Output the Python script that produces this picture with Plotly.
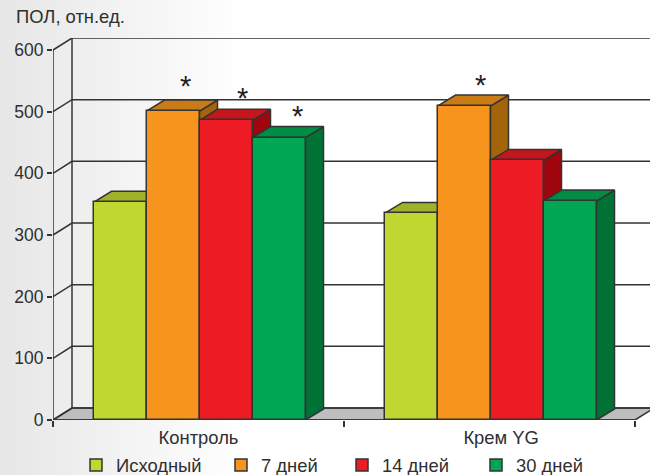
import plotly.graph_objects as go

# --- data ---
groups = ["Контроль", "Крем YG"]
series_names = ["Исходный", "7 дней", "14 дней", "30 дней"]
baseline = [353, 335]
day7 = [501, 509]
day14 = [486, 421]
day30 = [458, 355]
series_values = [baseline, day7, day14, day30]
y_ticks = [0, 100, 200, 300, 400, 500, 600]
star_series = [1, 2, 3, 1]      # which series carries a "*"
star_groups = [0, 0, 0, 1]      # in which group

# --- styles ---
front_cols = ["#bfd730", "#f7941d", "#ed1c24", "#00a651"]
top_cols = ["#9fb229", "#c97b16", "#c4161c", "#008c44"]
side_cols = ["#8a9a22", "#a4640a", "#a0060e", "#007236"]
legend_px = [76, 221, 342, 476]
star_xshift = [1, 5, 7, 5]
star_yshift = [14, 11, 11, 10]
INK = "#333333"
LW = 1.5
TEXT = "#2f2f2f"
FONT = "Liberation Sans"

W, H = 650, 475
X0, X_END, Y0, Y600, Y_TOP = 53, 650, 420, 50, 38
PX_GROUP = 291.0
PX_VAL = (Y0 - Y600) / 600.0
WALL_DX, WALL_DY = 19 / PX_GROUP, (Y0 - 408) / PX_VAL
BAR_DX, BAR_DY = 18 / PX_GROUP, 11 / PX_VAL
BAR_W = 53 / PX_GROUP
GROUP_CENTRE = 0.5 + 1 / PX_GROUP
N_GROUPS = len(groups)
X_MAX = (X_END - X0) / PX_GROUP
Y_MAX = max(y_ticks) + WALL_DY

fig = go.Figure()


def poly(xs, ys, fill=None, z=0, width=LW):
    fig.add_trace(go.Scatter(
        x=xs, y=ys, mode="lines", line=dict(color=INK, width=width),
        fill="toself" if fill else "none", fillcolor=fill,
        showlegend=False, hoverinfo="skip", cliponaxis=False if not fill else True,
        zorder=z))


# floor
poly([0, WALL_DX, N_GROUPS + WALL_DX, N_GROUPS, 0],
     [0, WALL_DY, WALL_DY, 0, 0], fill="#bcbec0", z=0)
# walls: grid on back wall and on side wall
for t in y_ticks:
    poly([0, WALL_DX, X_MAX], [t, t + WALL_DY, t + WALL_DY], z=0)
poly([WALL_DX, WALL_DX], [WALL_DY, max(y_ticks) + WALL_DY], z=0)
poly([0, 0], [0, max(y_ticks)], z=0)
poly([0, N_GROUPS], [0, 0], z=0)

# bars
for s, (name, vals) in enumerate(zip(series_names, series_values)):
    off = (s - len(series_names) / 2) * BAR_W
    xs = [g + GROUP_CENTRE for g in range(N_GROUPS)]
    for g, v in enumerate(vals):
        xl = xs[g] + off
        xr = xl + BAR_W
        poly([xr, xr + BAR_DX, xr + BAR_DX, xr, xr],
             [0, BAR_DY, v + BAR_DY, v, 0], fill=side_cols[s], z=2 * s + 1)
        poly([xl, xl + BAR_DX, xr + BAR_DX, xr, xl],
             [v, v + BAR_DY, v + BAR_DY, v, v], fill=top_cols[s], z=2 * s + 1)
    fig.add_trace(go.Bar(
        x=xs, y=vals, name=name, width=BAR_W, offset=off,
        legend="legend" if s == 0 else f"legend{s + 1}",
        marker=dict(color=front_cols[s], line=dict(color=INK, width=LW)),
        zorder=2 * s + 2, hoverinfo="skip"))

# significance stars
for s, g, dx, dy in zip(star_series, star_groups, star_xshift, star_yshift):
    off = (s - len(series_names) / 2) * BAR_W
    fig.add_annotation(
        x=g + GROUP_CENTRE + off + BAR_W / 2 + BAR_DX * 0.65,
        y=series_values[s][g] + BAR_DY, xshift=dx, yshift=dy,
        text="*", showarrow=False, xanchor="center", yanchor="middle",
        font=dict(family=FONT, size=29, color="#222222"))

fig.add_annotation(
    xref="paper", yref="paper", x=14 / W, y=1 - 17 / H,
    text="ПОЛ, отн.ед.", showarrow=False, xanchor="left", yanchor="middle",
    font=dict(family=FONT, size=18.4, color=TEXT))

# page background: soft gradient from the left edge
STRIP = 4
for i in range(0, 240, STRIP):
    c = int(231 + 24 * i / 240)
    fig.add_shape(type="rect", xref="paper", yref="paper", layer="below",
                  x0=i / W, x1=(i + STRIP + 1) / W, y0=0, y1=1,
                  line_width=0, fillcolor=f"rgb({c},{c},{min(c + 1, 255)})")

legends = {}
for s, px in enumerate(legend_px):
    key = "legend" if s == 0 else f"legend{s + 1}"
    legends[key] = dict(orientation="h", x=px / W, y=1 - 465 / H, xanchor="left",
                        yanchor="middle", bgcolor="rgba(0,0,0,0)",
                        font=dict(family=FONT, size=18.4, color=TEXT))

fig.update_layout(
    width=W, height=H, margin=dict(l=0, r=0, t=0, b=0, autoexpand=False),
    paper_bgcolor="white", plot_bgcolor="rgba(0,0,0,0)",
    barmode="overlay", bargap=0,
    font=dict(family=FONT, color=TEXT),
    xaxis=dict(domain=[X0 / W, 1], range=[0, X_MAX], showgrid=False, zeroline=False,
               showline=False, tickvals=[0.5, 1.54], ticktext=groups, ticks="",
               ticklabelstandoff=5, tickfont=dict(family=FONT, size=18.4, color=TEXT),
               minor=dict(tickvals=[0, 1, 2], ticks="outside", ticklen=6,
                          tickwidth=LW, tickcolor=INK)),
    yaxis=dict(domain=[1 - Y0 / H, 1 - Y_TOP / H], range=[0, Y_MAX], showgrid=False,
               zeroline=False, showline=False, tickvals=y_ticks, ticks="outside",
               ticklen=5, tickwidth=LW, tickcolor=INK,
               tickfont=dict(family=FONT, size=17.5, color=TEXT)),
    **legends,
)

fig.write_html("out.html", config={"displayModeBar": False},
               post_script="document.body.style.margin='0';")
